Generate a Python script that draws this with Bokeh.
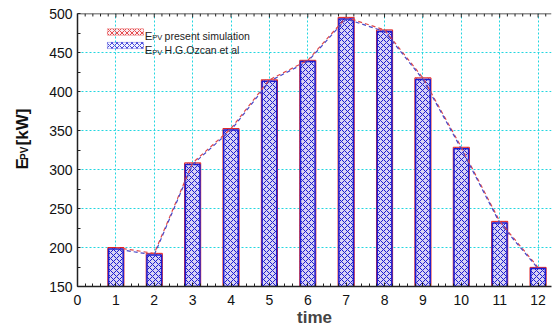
import math
import numpy as np
from bokeh.plotting import figure
from bokeh.layouts import row
from bokeh.models import BoxAnnotation, Label, SingleIntervalTicker, Span
from bokeh.embed import file_html
from bokeh.resources import INLINE

# Hourly PV energy output (kW)
time = [1, 2, 3, 4, 5, 6, 7, 8, 9, 10, 11, 12]
e_pv_present = [200, 192.5, 308.5, 352.5, 415, 440, 495, 479, 417.5, 328.5, 233.5, 174.5]
e_pv_ozcan = [198, 190.5, 306.5, 350.5, 413, 438.5, 493, 477, 415.5, 326.5, 231.5, 173]

FONT = "Liberation Sans"
RED = "#e02424"
BLUE = "#1c1cd0"
GRID = "#22d6e0"
AXIS = "#222222"

X_MAX = 12.35
Y_MIN, Y_MAX = 150, 500
STRIP = 44  # width of the strip holding the y-axis title

p = figure(width=554 - STRIP, height=329, x_range=(0, X_MAX), y_range=(Y_MIN, Y_MAX),
           output_backend="svg", toolbar_location=None,
           min_border_left=77 - STRIP, min_border_right=3,
           min_border_top=13, min_border_bottom=41)
p.outline_line_color = None

xticker = SingleIntervalTicker(interval=1, num_minor_ticks=5)
yticker = SingleIntervalTicker(interval=50, num_minor_ticks=2)

p.xaxis.ticker = xticker
p.yaxis.ticker = yticker
p.xgrid.ticker = xticker
p.ygrid.ticker = yticker
for g in (p.xgrid, p.ygrid):
    g.grid_line_color = GRID
    g.grid_line_dash = "2 2"
    g.grid_line_width = 1

for ax in (p.xaxis, p.yaxis):
    ax.axis_line_color = AXIS
    ax.axis_line_width = 1.5
    ax.major_tick_in = 4
    ax.major_tick_out = 0
    ax.minor_tick_in = 3
    ax.minor_tick_out = 0
    ax.major_tick_line_color = AXIS
    ax.minor_tick_line_color = AXIS
    ax.major_label_text_font = FONT
    ax.major_label_text_font_size = "14px"
    ax.major_label_text_color = "#111111"

p.yaxis.major_tick_in = 0
p.xaxis.major_label_standoff = 8
p.yaxis.major_label_standoff = 5
p.xaxis.axis_label = "time"
p.xaxis.axis_label_text_font = FONT
p.xaxis.axis_label_text_font_size = "17px"
p.xaxis.axis_label_text_font_style = "bold"
p.xaxis.axis_label_standoff = 0

# top edge of the box with short inward ticks
p.add_layout(Span(location=Y_MAX, dimension="width", line_color=AXIS, line_width=1.5))
px_to_y = (Y_MAX - Y_MIN) / 275.0
top_minor = np.round(np.arange(0, X_MAX, 0.2), 2)
tick_len = np.where(np.isclose(top_minor % 1, 0), 4, 3) * px_to_y
p.segment(x0=top_minor, y0=Y_MAX, x1=top_minor, y1=Y_MAX - tick_len,
          line_color=AXIS, line_width=1)

# bars: present simulation behind, H.G.Ozcan on top
p.vbar(x=time, top=e_pv_present, bottom=Y_MIN, width=0.42,
       fill_color="#f2c4d2", line_color=RED, line_width=1,
       hatch_pattern="x", hatch_color=RED, hatch_scale=6, hatch_weight=0.8)
p.vbar(x=time, top=e_pv_ozcan, bottom=Y_MIN, width=0.38,
       fill_color="#d0d8ff", fill_alpha=0.75, line_color=BLUE, line_width=1.5,
       hatch_pattern="x", hatch_color=BLUE, hatch_scale=6, hatch_weight=1)

# dashed trend lines through the bar tops
p.line(time, e_pv_present, line_color="#e04848", line_width=1.2, line_dash="4 3")
p.line(time, e_pv_ozcan, line_color="#4848c8", line_width=1.2, line_dash="4 3",
       line_dash_offset=3)

# legend entries
p.add_layout(BoxAnnotation(left=0.78, right=1.72, bottom=472, top=480.5,
                           fill_color="#f6d0da", line_color=RED, line_width=1,
                           hatch_pattern="x", hatch_color=RED, hatch_scale=5,
                           hatch_weight=0.8))
p.add_layout(BoxAnnotation(left=0.78, right=1.72, bottom=455, top=463,
                           fill_color="#dce4ff", line_color=BLUE, line_width=1,
                           hatch_pattern="x", hatch_color=BLUE, hatch_scale=5,
                           hatch_weight=0.8))

def legend_row(y_base, text):
    p.add_layout(Label(x=1.75, y=y_base, text="E", text_font=FONT,
                       text_font_size="11.5px", text_baseline="alphabetic",
                       text_color="#222222"))
    p.add_layout(Label(x=1.95, y=y_base - 2.8, text="PV", text_font=FONT,
                       text_font_size="7.5px", text_baseline="alphabetic",
                       text_color="#222222"))
    p.add_layout(Label(x=2.27, y=y_base, text=text, text_font=FONT,
                       text_font_size="10.5px", text_baseline="alphabetic",
                       text_color="#222222"))

legend_row(471.6, "present simulation")
legend_row(452.6, "H.G.Ozcan et al")

# narrow strip on the left carrying the rotated y-axis title (pixel coordinates)
t = figure(width=STRIP, height=329, x_range=(0, STRIP), y_range=(0, 329),
           output_backend="svg", toolbar_location=None,
           min_border=0, min_border_left=0, min_border_right=0,
           min_border_top=0, min_border_bottom=0)
t.axis.visible = False
t.grid.visible = False
t.outline_line_color = None

ang = math.pi / 2
t.add_layout(Label(x=22, y=141, text="E", angle=ang, text_font=FONT,
                   text_font_size="17px", text_font_style="bold",
                   text_baseline="alphabetic", text_color="#111111"))
t.add_layout(Label(x=24, y=152.5, text="PV", angle=ang, text_font=FONT,
                   text_font_size="10px", text_font_style="bold",
                   text_baseline="alphabetic", text_color="#111111"))
t.add_layout(Label(x=22, y=170, text="[kW]", angle=ang, text_font=FONT,
                   text_font_size="17px", text_font_style="bold",
                   text_baseline="alphabetic", text_color="#111111"))

layout = row(t, p, spacing=0)
open("out.html", "w").write(file_html(layout, INLINE))
